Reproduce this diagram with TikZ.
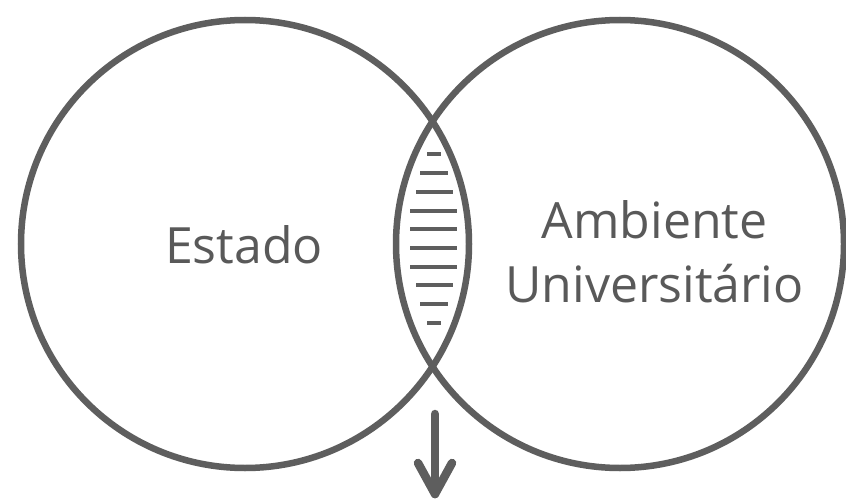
\documentclass[tikz,border=0pt]{standalone}
\usepackage{fontspec}
\setmainfont{Open Sans}
\definecolor{ln}{HTML}{5E5E5E}
\definecolor{tx}{HTML}{595959}
\tikzset{
  ring/.style={circle, draw=ln, line width=6.5pt, minimum size=448pt, inner sep=0pt},
  hatch/.style={draw=ln, line width=4.2pt},
  lbl/.style={text=tx, font=\fontsize{50}{60}\selectfont, anchor=base, inner sep=0pt},
  arrowline/.style={draw=ln, line width=8.5pt, line cap=round, line join=round}
}
\begin{document}
\begin{tikzpicture}[x=1pt,y=-1pt]
\useasboundingbox (0,0) rectangle (846,500);
\fill[white] (0,0) rectangle (846,500);
\node[ring] (L) at (245,244) {};
\node[ring] (R) at (620,244) {};
% hatching in the lens
\foreach \y/\a/\b in {154.3/427/441, 173.3/420/448, 191.7/416/453, 210.7/410/457, 229.3/410/457, 247.7/410/457, 266.7/410/457, 285/416/453, 304/420/448, 323.3/427/441}{
  \draw[hatch] (\a,\y) -- (\b,\y);
}
\node[lbl] (est) at (244,263) {Estado};
\node[lbl] (amb) at (654.5,238) {Ambiente};
\node[lbl] (uni) at (654.5,302) {Universitário};
\coordinate (atop) at (435,414);
\coordinate (atip) at (435,494);
\draw[arrowline] (atop) -- (atip);
\draw[arrowline] ([xshift=-17pt,yshift=31pt]atip) -- (atip) -- ([xshift=17pt,yshift=31pt]atip);
\end{tikzpicture}
\end{document}
